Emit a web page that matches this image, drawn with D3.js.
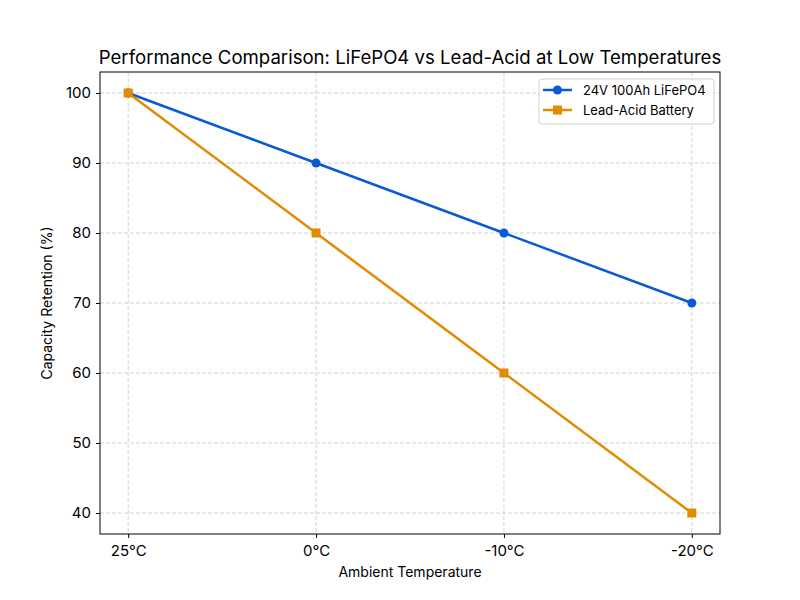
<!DOCTYPE html>
<html>
<head>
<meta charset="utf-8">
<script src="https://cdn.jsdelivr.net/npm/d3@7"></script>
<style>
  body { margin: 0; background: #fff; }
  text { font-family: "Inter", "Open Sans", sans-serif; fill: #000; }
</style>
</head>
<body>
<svg id="chart" width="800" height="600"></svg>
<script>
// data
const temps = ["25°C", "0°C", "-10°C", "-20°C"];
const lifepo4 = [100, 90, 80, 70];
const leadAcid = [100, 80, 60, 40];
const yTicks = [40, 50, 60, 70, 80, 90, 100];

const margin = {left: 100, right: 80, top: 72, bottom: 66};
const W = 800, H = 600;

const svg = d3.select("#chart");

const x = d3.scaleLinear().domain([-0.15, 3.15]).range([margin.left, W - margin.right]);
const y = d3.scaleLinear().domain([37, 103]).range([H - margin.bottom, margin.top]);

// grid
const grid = svg.append("g");
grid.selectAll(".gx").data(temps).enter().append("line")
  .attr("x1", (d, i) => x(i)).attr("x2", (d, i) => x(i))
  .attr("y1", margin.top).attr("y2", H - margin.bottom)
  .attr("stroke", "#b0b0b0").attr("stroke-opacity", 0.7)
  .attr("stroke-dasharray", "4,2").attr("stroke-width", 0.8);
grid.selectAll(".gy").data(yTicks).enter().append("line")
  .attr("y1", d => y(d)).attr("y2", d => y(d))
  .attr("x1", margin.left).attr("x2", W - margin.right)
  .attr("stroke", "#b0b0b0").attr("stroke-opacity", 0.7)
  .attr("stroke-dasharray", "4,2").attr("stroke-width", 0.8);

// axes
const xAxis = d3.axisBottom(x).tickValues([0, 1, 2, 3])
  .tickFormat(i => temps[i]).tickSize(4).tickPadding(5);
const yAxis = d3.axisLeft(y).tickValues(yTicks).tickSize(4).tickPadding(5);

svg.append("g").attr("transform", "translate(0," + (H - margin.bottom) + ")")
  .call(xAxis).call(g => g.select(".domain").remove())
  .selectAll("text").style("font-size", "15px").attr("dy", "0.85em");
svg.append("g").attr("transform", "translate(" + margin.left + ",0)")
  .call(yAxis).call(g => g.select(".domain").remove())
  .selectAll("text").style("font-size", "15px");

svg.append("rect")
  .attr("x", margin.left).attr("y", margin.top)
  .attr("width", W - margin.left - margin.right)
  .attr("height", H - margin.top - margin.bottom)
  .attr("fill", "none").attr("stroke", "#000").attr("stroke-width", 1);

// lines
const line = d3.line().x((d, i) => x(i)).y(d => y(d));
const series = [
  {name: "24V 100Ah LiFePO4", values: lifepo4, color: "#0a5ad4", shape: "circle"},
  {name: "Lead-Acid Battery", values: leadAcid, color: "#e08c00", shape: "square"}
];

series.forEach(s => {
  svg.append("path").datum(s.values)
    .attr("d", line).attr("fill", "none")
    .attr("stroke", s.color).attr("stroke-width", 2.5);
  if (s.shape === "circle") {
    svg.selectAll(null).data(s.values).enter().append("circle")
      .attr("cx", (d, i) => x(i)).attr("cy", d => y(d)).attr("r", 4.5)
      .attr("fill", s.color);
  } else {
    svg.selectAll(null).data(s.values).enter().append("rect")
      .attr("x", (d, i) => x(i) - 4.5).attr("y", d => y(d) - 4.5)
      .attr("width", 9).attr("height", 9).attr("fill", s.color);
  }
});

// title & labels
svg.append("text").attr("x", (margin.left + W - margin.right) / 2).attr("y", 64)
  .attr("text-anchor", "middle").style("font-size", "18.6px")
  .text("Performance Comparison: LiFePO4 vs Lead-Acid at Low Temperatures");
svg.append("text").attr("x", (margin.left + W - margin.right) / 2).attr("y", 577)
  .attr("text-anchor", "middle").style("font-size", "14px")
  .text("Ambient Temperature");
svg.append("text")
  .attr("transform", "translate(52," + ((margin.top + H - margin.bottom) / 2) + ") rotate(-90)")
  .attr("text-anchor", "middle").style("font-size", "14px")
  .text("Capacity Retention (%)");

// legend
const lg = svg.append("g").attr("transform", "translate(539,79)");
lg.append("rect").attr("width", 175).attr("height", 45).attr("rx", 3)
  .attr("fill", "#fff").attr("fill-opacity", 0.8)
  .attr("stroke", "#d0d0d0");
series.forEach((s, i) => {
  const yy = 11 + i * 20;
  lg.append("line").attr("x1", 4).attr("x2", 33).attr("y1", yy).attr("y2", yy)
    .attr("stroke", s.color).attr("stroke-width", 2.5);
  if (s.shape === "circle") {
    lg.append("circle").attr("cx", 18.5).attr("cy", yy).attr("r", 4.5).attr("fill", s.color);
  } else {
    lg.append("rect").attr("x", 14).attr("y", yy - 4.5).attr("width", 9).attr("height", 9).attr("fill", s.color);
  }
  lg.append("text").attr("x", 44).attr("y", yy).attr("dy", "0.35em")
    .style("font-size", "13px").text(s.name);
});
</script>
</body>
</html>
